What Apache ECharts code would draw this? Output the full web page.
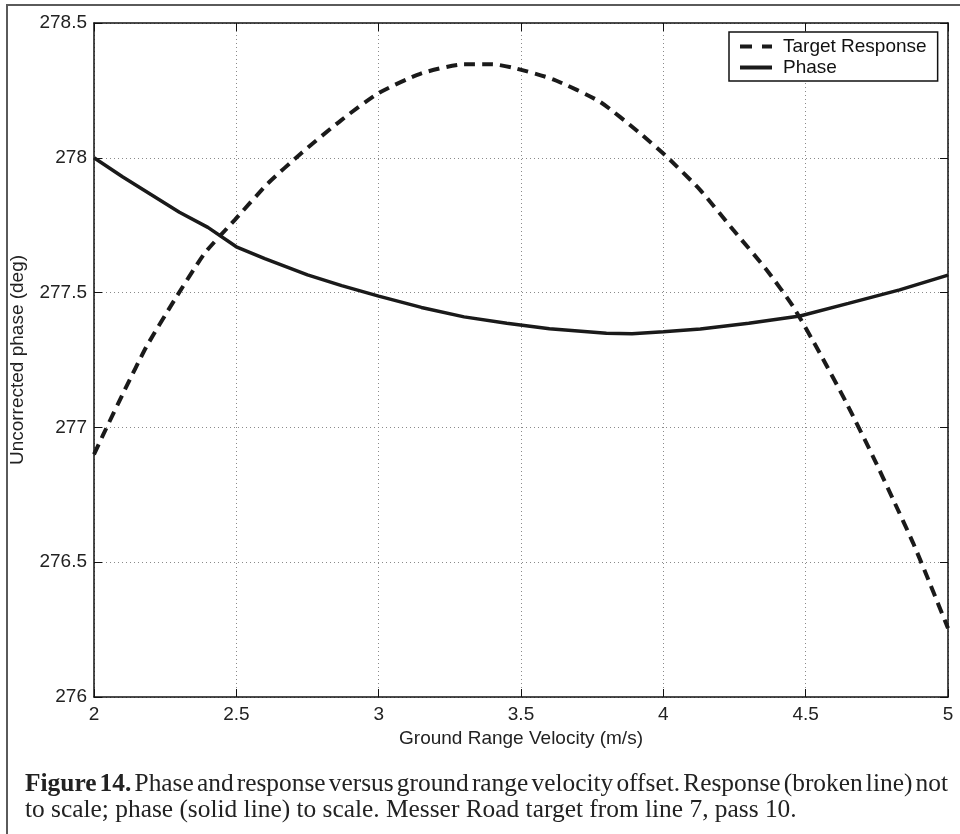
<!DOCTYPE html>
<html><head><meta charset="utf-8">
<script src="https://cdn.jsdelivr.net/npm/echarts@6/dist/echarts.min.js"></script>
<style>html,body{margin:0;padding:0;background:#fff}#c{width:960px;height:834px}</style>
</head><body><div id="c"></div>
<script>
// ---- data ----
const xTickLabels = ['2', '2.5', '3', '3.5', '4', '4.5', '5'];
const yTickLabels = ['276', '276.5', '277', '277.5', '278', '278.5'];

const phaseX = [2.0, 2.1, 2.2, 2.3, 2.4, 2.5, 2.6, 2.75, 2.87, 3.0, 3.15, 3.3, 3.45, 3.6, 3.8, 3.89, 4.0, 4.13, 4.3, 4.48, 4.65, 4.83, 5.0];
const phaseY = [278.0, 277.93, 277.864, 277.798, 277.742, 277.67, 277.626, 277.566, 277.526, 277.487, 277.445, 277.41, 277.386, 277.366, 277.349, 277.347, 277.355, 277.365, 277.386, 277.413, 277.46, 277.51, 277.565];

const respX = [2.0, 2.032, 2.108, 2.184, 2.283, 2.389, 2.494, 2.611, 2.728, 2.869, 2.998, 3.15, 3.3, 3.4, 3.48, 3.613, 3.777, 3.918, 4.012, 4.129, 4.246, 4.363, 4.456, 4.55, 4.644, 4.737, 4.808, 4.878, 4.936, 5.0];
const respY = [276.9, 276.972, 277.139, 277.299, 277.473, 277.646, 277.769, 277.905, 278.017, 278.14, 278.239, 278.313, 278.347, 278.347, 278.332, 278.291, 278.208, 278.091, 278.004, 277.881, 277.732, 277.584, 277.448, 277.275, 277.089, 276.891, 276.731, 276.57, 276.422, 276.255];

const seriesNames = ['Target Response', 'Phase'];
const xAxisName = 'Ground Range Velocity (m/s)';
const yAxisName = 'Uncorrected phase (deg)';
const captionBold = ['Figure', '14.'];
const captionLine1 = 'Phase and response versus ground range velocity offset. Response (broken line) not';
const captionLine2 = 'to scale; phase (solid line) to scale. Messer Road target from line 7, pass 10.';

// ---- build ----
const xMin = parseFloat(xTickLabels[0]), xMax = parseFloat(xTickLabels[xTickLabels.length - 1]);
const xInt = parseFloat(xTickLabels[1]) - xMin;
const yMin = parseFloat(yTickLabels[0]), yMax = parseFloat(yTickLabels[yTickLabels.length - 1]);
const yInt = parseFloat(yTickLabels[1]) - yMin;

const phaseData = phaseX.map((x, i) => [x, phaseY[i]]);
const respData = respX.map((x, i) => [x, respY[i]]);

const SANS = '"Liberation Sans", Arial, Helvetica, sans-serif';
const SERIF = '"Liberation Serif", "Times New Roman", serif';
const LINE = '#1a1a1a';
const FS = 19;

// caption layout (justified first line)
const mc = document.createElement('canvas').getContext('2d');
function tw(t, font) { mc.font = font; return mc.measureText(t).width; }
const capLeft = 25, capRight = 948, line2Width = 772;
const fs = 20 * line2Width / tw(captionLine2, '20px ' + SERIF);
const nf = fs.toFixed(2) + 'px ' + SERIF;
const bf = 'bold ' + fs.toFixed(2) + 'px ' + SERIF;
const words = captionBold.map(t => ({ t, f: bf })).concat(captionLine1.split(' ').map(t => ({ t, f: nf })));
const totalW = words.reduce((s, w) => s + tw(w.t, w.f), 0);
const gap = (capRight - capLeft - totalW) / (words.length - 1);
const graphics = [];
let cx = capLeft;
words.forEach(w => {
  graphics.push({ type: 'text', x: cx, y: 784, silent: true,
    style: { text: w.t, font: w.f, fill: '#222', align: 'left', verticalAlign: 'middle' } });
  cx += tw(w.t, w.f) + gap;
});
graphics.push({ type: 'text', x: capLeft, y: 810, silent: true,
  style: { text: captionLine2, font: nf, fill: '#222', align: 'left', verticalAlign: 'middle' } });
graphics.push({ type: 'line', silent: true, shape: { x1: 7, y1: 5, x2: 960, y2: 5 }, style: { stroke: '#5a5a5a', lineWidth: 2 } });
graphics.push({ type: 'line', silent: true, shape: { x1: 7, y1: 4, x2: 7, y2: 834 }, style: { stroke: '#5a5a5a', lineWidth: 2 } });

const axisCommon = {
  type: 'value',
  axisLine: { show: true, onZero: false, lineStyle: { color: '#111', width: 1.5 } },
  axisTick: { show: true, inside: true, length: 8, lineStyle: { color: '#111', width: 1 } },
};

const dashIcon = 'path://M0,0H12V4H0Z M22,0H32V4H22Z';
const solidIcon = 'path://M0,0H32V4H0Z';

const chart = echarts.init(document.getElementById('c'));
chart.setOption({
  animation: false,
  backgroundColor: '#fff',
  grid: { left: 94, right: 12, top: 23, bottom: 137, containLabel: false },
  legend: {
    orient: 'vertical', left: 729, top: 32,
    padding: [4, 11, 3, 11],
    itemWidth: 32, itemHeight: 4, itemGap: 0,
    borderColor: '#111', borderWidth: 1.5, backgroundColor: '#fff',
    textStyle: { fontFamily: SANS, fontSize: FS, lineHeight: 21, color: '#111', padding: [0, 0, 0, 6] },
    data: [
      { name: seriesNames[0], icon: dashIcon, itemStyle: { color: LINE, borderWidth: 0 } },
      { name: seriesNames[1], icon: solidIcon, itemStyle: { color: LINE, borderWidth: 0 } }
    ]
  },
  xAxis: [
    Object.assign({}, axisCommon, {
      position: 'bottom', min: xMin, max: xMax, interval: xInt,
      name: xAxisName, nameLocation: 'middle', nameGap: 27,
      nameTextStyle: { fontFamily: SANS, fontSize: FS, color: '#222' },
      axisLabel: { fontFamily: SANS, fontSize: FS, color: '#222', margin: 8,
        formatter: v => xTickLabels.find(t => Math.abs(parseFloat(t) - v) < 1e-6) || '' },
      splitLine: { show: true, lineStyle: { color: '#8a8a8a', width: 1, type: [1, 3] } }
    }),
    Object.assign({}, axisCommon, {
      position: 'top', min: xMin, max: xMax, interval: xInt,
      axisLabel: { show: false }, splitLine: { show: false }
    })
  ],
  yAxis: [
    Object.assign({}, axisCommon, {
      position: 'left', min: yMin, max: yMax, interval: yInt,
      name: yAxisName, nameLocation: 'middle', nameGap: 67,
      nameTextStyle: { fontFamily: SANS, fontSize: FS, color: '#222' },
      axisLabel: { fontFamily: SANS, fontSize: FS, color: '#222', margin: 7,
        formatter: v => yTickLabels.find(t => Math.abs(parseFloat(t) - v) < 1e-6) || '' },
      splitLine: { show: true, lineStyle: { color: '#8a8a8a', width: 1, type: [1, 3] } }
    }),
    Object.assign({}, axisCommon, {
      position: 'right', min: yMin, max: yMax, interval: yInt,
      axisLabel: { show: false }, splitLine: { show: false }
    })
  ],
  series: [
    { name: seriesNames[0], type: 'line', xAxisIndex: 0, yAxisIndex: 0, data: respData,
      symbol: 'none', smooth: 0.2, z: 3,
      lineStyle: { color: LINE, width: 4, type: [11, 7] }, itemStyle: { color: LINE } },
    { name: seriesNames[1], type: 'line', xAxisIndex: 0, yAxisIndex: 0, data: phaseData,
      symbol: 'none', smooth: false, z: 4,
      lineStyle: { color: LINE, width: 3.5, type: 'solid' }, itemStyle: { color: LINE } }
  ],
  graphic: graphics
});
</script></body></html>
